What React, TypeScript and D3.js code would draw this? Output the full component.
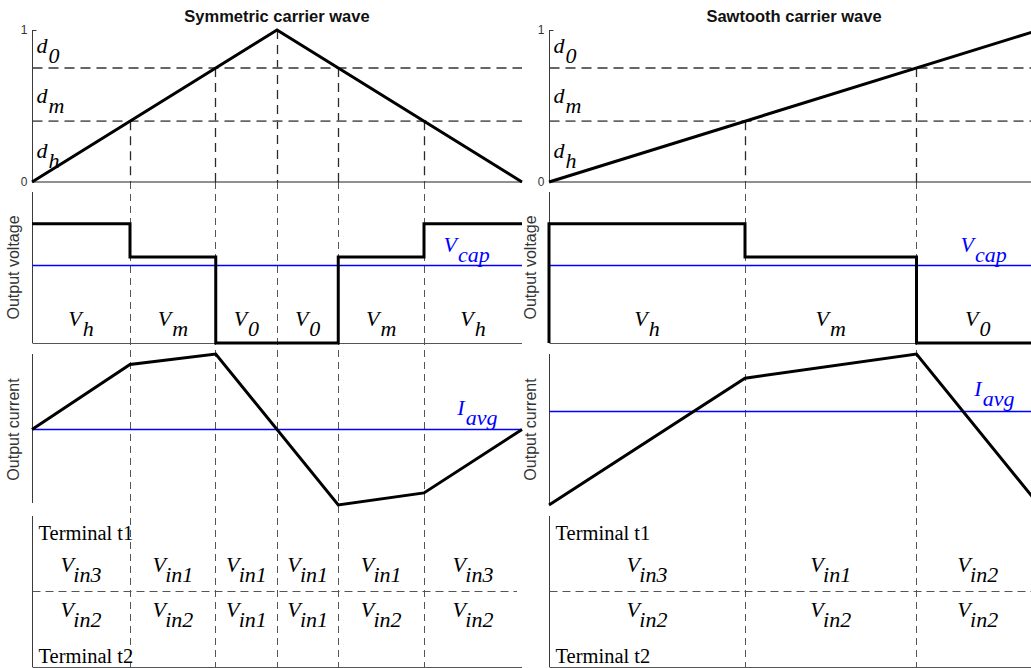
import React from "react";
import * as d3 from "d3";

const W = 1031;
const H = 668;

// Column titles
const titles = ["Symmetric carrier wave", "Sawtooth carrier wave"];

// Carrier waveforms over one normalised switching period
const symCarrierT = [0, 0.5, 1];
const symCarrierV = [0, 1, 0];
const sawCarrierT = [0, 1];
const sawCarrierV = [0, 1];

// Duty-cycle thresholds compared against the carrier
const thresholds = [0.4, 0.75];
const dSubs = ["0", "m", "h"];
const dLabelLevels = [0.85, 0.52, 0.16];

// Switching instants and the carrier level where each occurs
const symSwitchT = [0.2, 0.375, 0.5, 0.625, 0.8];
const symSwitchLevel = [0.4, 0.75, 1, 0.75, 0.4];
const sawSwitchT = [0.4, 0.75];
const sawSwitchLevel = [0.4, 0.75];

// Output voltage levels
const Vh = 0.79;
const Vm = 0.57;
const V0 = 0;
const symVcap = 0.51;
const sawVcap = 0.51;

const symVoltT = [0, 0.2, 0.2, 0.375, 0.375, 0.625, 0.625, 0.8, 0.8, 1];
const symVoltV = [Vh, Vh, Vm, Vm, V0, V0, Vm, Vm, Vh, Vh];
const sawVoltT = [0, 0, 0.4, 0.4, 0.75, 0.75, 1];
const sawVoltV = [V0, Vh, Vh, Vm, Vm, V0, V0];

const symVoltSubs = ["h", "m", "0", "0", "m", "h"];
const sawVoltSubs = ["h", "m", "0"];

// Output current
const symCurT = [0, 0.2, 0.375, 0.625, 0.8, 1];
const symCurI = [0.5, 0.93, 1.0, 0, 0.08, 0.5];
const sawCurT = [0, 0.4, 0.75, 1];
const sawCurI = [0, 0.84, 1.0, 0];
const symIavg = 0.5;
const sawIavg = 0.62;

// Input connected to each terminal in every interval
const symT1 = ["in3", "in1", "in1", "in1", "in1", "in3"];
const symT2 = ["in2", "in2", "in1", "in1", "in2", "in2"];
const sawT1 = ["in3", "in1", "in2"];
const sawT2 = ["in2", "in2", "in2"];

const terminalNames = ["Terminal t1", "Terminal t2"];
const carrierTicks = [0, 1];

// ---- layout ----
const colX: [number, number][] = [
  [32, 522],
  [549, 1039],
];
const rows: [number, number][] = [
  [30, 182],
  [192, 343],
  [354, 505],
  [516, 667],
];

const SERIF = "'Liberation Serif', 'Times New Roman', Times, serif";
const SANS = "'Liberation Sans', Arial, Helvetica, sans-serif";
const AXIS = "#3a3a3a";
const BLUE = "#0000ff";

// snap a coordinate onto the pixel grid so 1px lines stay crisp
const crisp = (v: number) => Math.round(v - 0.5) + 0.5;

type ColumnData = {
  title: string;
  carrierT: number[];
  carrierV: number[];
  switchT: number[];
  switchLevel: number[];
  voltT: number[];
  voltV: number[];
  voltSubs: string[];
  vcap: number;
  curT: number[];
  curI: number[];
  iavg: number;
  t1: string[];
  t2: string[];
};

const columns: ColumnData[] = [
  {
    title: titles[0],
    carrierT: symCarrierT,
    carrierV: symCarrierV,
    switchT: symSwitchT,
    switchLevel: symSwitchLevel,
    voltT: symVoltT,
    voltV: symVoltV,
    voltSubs: symVoltSubs,
    vcap: symVcap,
    curT: symCurT,
    curI: symCurI,
    iavg: symIavg,
    t1: symT1,
    t2: symT2,
  },
  {
    title: titles[1],
    carrierT: sawCarrierT,
    carrierV: sawCarrierV,
    switchT: sawSwitchT,
    switchLevel: sawSwitchLevel,
    voltT: sawVoltT,
    voltV: sawVoltV,
    voltSubs: sawVoltSubs,
    vcap: sawVcap,
    curT: sawCurT,
    curI: sawCurI,
    iavg: sawIavg,
    t1: sawT1,
    t2: sawT2,
  },
];

function SubText(props: {
  x: number;
  y: number;
  base: string;
  sub: string;
  fill?: string;
  anchor?: "start" | "middle" | "end";
  size?: number;
}) {
  const { x, y, base, sub, fill = "#000", anchor = "middle", size = 22 } = props;
  return (
    <text
      x={x}
      y={y}
      textAnchor={anchor}
      fontFamily={SERIF}
      fontStyle="italic"
      fontSize={size}
      fill={fill}
    >
      <tspan>{base}</tspan>
      <tspan dx={1} dy={10}>
        {sub}
      </tspan>
    </text>
  );
}

function Column({ data, range }: { data: ColumnData; range: [number, number] }) {
  const x = d3.scaleLinear().domain([0, 1]).range(range);
  const yC = d3.scaleLinear().domain([0, 1]).range([rows[0][1], rows[0][0]]);
  const yV = d3.scaleLinear().domain([0, 1]).range([rows[1][1], rows[1][0]]);
  const yI = d3.scaleLinear().domain([0, 1]).range([rows[2][1], rows[2][0]]);
  const yT = d3.scaleLinear().domain([0, 1]).range([rows[3][1], rows[3][0]]);

  const line = (ys: d3.ScaleLinear<number, number>) =>
    d3
      .line<[number, number]>()
      .x((d) => x(d[0]))
      .y((d) => ys(d[1]));

  const carrierPts = data.carrierT.map((t, i) => [t, data.carrierV[i]] as [number, number]);
  const voltPts = data.voltT.map((t, i) => [t, data.voltV[i]] as [number, number]);
  const curPts = data.curT.map((t, i) => [t, data.curI[i]] as [number, number]);

  const bounds = [0, ...data.switchT, 1];
  const segCenters = bounds.slice(0, -1).map((b, i) => (b + bounds[i + 1]) / 2);

  const x0 = crisp(x(0));
  const x1 = x(1);

  return (
    <g>
      {/* title */}
      <text
        x={(x(0) + x1) / 2}
        y={22}
        textAnchor="middle"
        fontFamily={SANS}
        fontWeight="bold"
        fontSize={16.5}
        fill="#111"
      >
        {data.title}
      </text>

      {/* switching instants: carrier crossing down to the bottom */}
      {data.switchT.map((t, i) => (
        <g key={"sw" + i}>
          <line
            x1={crisp(x(t))}
            x2={crisp(x(t))}
            y1={yC(data.switchLevel[i])}
            y2={rows[0][1]}
            stroke="#2a2a2a"
            strokeWidth={1.3}
            strokeDasharray="9,6"
          />
          <line
            x1={crisp(x(t))}
            x2={crisp(x(t))}
            y1={rows[0][1]}
            y2={rows[3][1]}
            stroke="#555"
            strokeWidth={1}
            strokeDasharray="7,5"
          />
        </g>
      ))}

      {/* ---------- row 1: carrier ---------- */}
      {thresholds.map((d, i) => (
        <line
          key={"th" + i}
          x1={x0}
          x2={x1}
          y1={yC(d)}
          y2={yC(d)}
          stroke="#666"
          strokeWidth={1.8}
          strokeDasharray="10,6"
        />
      ))}
      <line x1={x0} x2={x0} y1={rows[0][0]} y2={rows[0][1]} stroke={AXIS} strokeWidth={1} />
      <line x1={x0} x2={x0 + 4} y1={crisp(yC(1))} y2={crisp(yC(1))} stroke={AXIS} strokeWidth={1} />
      <line x1={x0} x2={x1} y1={yC(0)} y2={yC(0)} stroke="#222" strokeWidth={1.2} />
      {carrierTicks.map((v) => (
        <text
          key={"tk" + v}
          x={x0 - 5}
          y={yC(v) + 4}
          textAnchor="end"
          fontFamily={SANS}
          fontSize={12}
          fill="#333"
        >
          {v}
        </text>
      ))}
      {dSubs.map((s, i) => (
        <SubText key={"d" + i} x={x0 + 4} y={yC(dLabelLevels[i])} base="d" sub={s} anchor="start" size={22} />
      ))}
      <path d={line(yC)(carrierPts) || ""} fill="none" stroke="#000" strokeWidth={3} strokeLinejoin="miter" />

      {/* ---------- row 2: output voltage ---------- */}
      <line x1={x0} x2={x0} y1={rows[1][0]} y2={rows[1][1]} stroke={AXIS} strokeWidth={1} />
      <line x1={x0} x2={x1} y1={crisp(yV(0))} y2={crisp(yV(0))} stroke="#555" strokeWidth={1} />
      <line
        x1={x0}
        x2={x1}
        y1={crisp(yV(data.vcap))}
        y2={crisp(yV(data.vcap))}
        stroke={BLUE}
        strokeWidth={1.5}
      />
      <SubText x={x(0.84)} y={yV(data.vcap) - 14} base="V" sub="cap" fill={BLUE} anchor="start" />
      <path d={line(yV)(voltPts) || ""} fill="none" stroke="#000" strokeWidth={3} strokeLinejoin="miter" />
      {data.voltSubs.map((s, i) => (
        <SubText key={"vs" + i} x={x(segCenters[i])} y={yV(0.11)} base="V" sub={s} />
      ))}
      <text
        transform={`translate(${x(0) - 13},${(rows[1][0] + rows[1][1]) / 2}) rotate(-90)`}
        textAnchor="middle"
        fontFamily={SANS}
        fontSize={16}
        fill="#333"
      >
        Output voltage
      </text>

      {/* ---------- row 3: output current ---------- */}
      <line x1={x0} x2={x0} y1={rows[2][0]} y2={rows[2][1] - 2} stroke={AXIS} strokeWidth={1} />
      <line
        x1={x0}
        x2={x1}
        y1={crisp(yI(data.iavg))}
        y2={crisp(yI(data.iavg))}
        stroke={BLUE}
        strokeWidth={1.5}
      />
      <SubText x={x(0.868)} y={yI(data.iavg) - 15} base="I" sub="avg" fill={BLUE} anchor="start" />
      <path d={line(yI)(curPts) || ""} fill="none" stroke="#000" strokeWidth={3} strokeLinejoin="miter" />
      <text
        transform={`translate(${x(0) - 13},${(rows[2][0] + rows[2][1]) / 2}) rotate(-90)`}
        textAnchor="middle"
        fontFamily={SANS}
        fontSize={16}
        fill="#333"
      >
        Output current
      </text>

      {/* ---------- row 4: terminal connections ---------- */}
      <line x1={x0} x2={x0} y1={rows[3][0]} y2={rows[3][1]} stroke={AXIS} strokeWidth={1} />
      <line x1={x0} x2={x1} y1={crisp(yT(0))} y2={crisp(yT(0))} stroke="#555" strokeWidth={1} />
      <line
        x1={x0}
        x2={x1 - 5}
        y1={crisp(yT(0.5))}
        y2={crisp(yT(0.5))}
        stroke="#555"
        strokeWidth={1}
        strokeDasharray="8,5"
      />
      <text x={x0 + 6} y={yT(0.84)} fontFamily={SERIF} fontSize={20.5} fill="#000">
        {terminalNames[0]}
      </text>
      <text x={x0 + 6} y={yT(0.025)} fontFamily={SERIF} fontSize={20.5} fill="#000">
        {terminalNames[1]}
      </text>
      {data.t1.map((s, i) => (
        <SubText key={"t1" + i} x={x(segCenters[i])} y={yT(0.63)} base="V" sub={s} />
      ))}
      {data.t2.map((s, i) => (
        <SubText key={"t2" + i} x={x(segCenters[i])} y={yT(0.33)} base="V" sub={s} />
      ))}
    </g>
  );
}

export default function App() {
  return (
    <svg
      width={W}
      height={H}
      viewBox={`0 0 ${W} ${H}`}
      style={{ position: "absolute", left: 0, top: 0, background: "#fff", overflow: "hidden" }}
    >
      <rect x={0} y={0} width={W} height={H} fill="#fff" />
      {columns.map((c, i) => (
        <Column key={i} data={c} range={colX[i]} />
      ))}
    </svg>
  );
}
